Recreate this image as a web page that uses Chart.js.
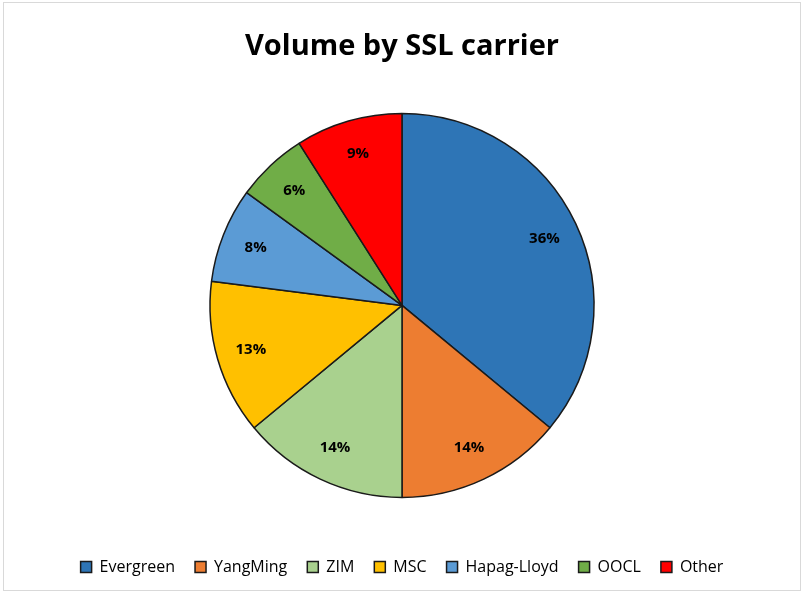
<!DOCTYPE html>
<html>
<head>
<meta charset="utf-8">
<script src="https://cdn.jsdelivr.net/npm/chart.js@4.4.0/dist/chart.umd.min.js"></script>
<style>
  html, body { margin: 0; padding: 0; background: #fff; }
  #wrap {
    position: absolute; left: 3px; top: 2px;
    width: 798px; height: 589px;
    border: 1px solid #d9d9d9; box-sizing: border-box;
  }
</style>
</head>
<body>
<div id="wrap"><canvas id="pieChart"></canvas></div>
<script>
// ---------- DATA ----------
const carriers = ["Evergreen", "YangMing", "ZIM", "MSC", "Hapag-Lloyd", "OOCL", "Other"];
const shares = [36, 14, 14, 13, 8, 6, 9];
const sliceColors = ["#2E75B6", "#ED7D31", "#A9D18E", "#FFC000", "#5B9BD5", "#70AD47", "#FF0000"];

const FONT = "'Open Sans', sans-serif";

// ---------- SLICE LABELS (percent inside each slice) ----------
const sliceLabels = {
  id: "sliceLabels",
  afterDatasetsDraw(chart) {
    const ctx = chart.ctx;
    const meta = chart.getDatasetMeta(0);
    ctx.save();
    ctx.font = "bold 15px " + FONT;
    ctx.fillStyle = "#000";
    ctx.textAlign = "center";
    ctx.textBaseline = "middle";
    meta.data.forEach((arc, i) => {
      const mid = (arc.startAngle + arc.endAngle) / 2;
      const r = arc.outerRadius * 0.82;
      ctx.fillText(shares[i] + "%", arc.x + Math.cos(mid) * r, arc.y + Math.sin(mid) * r);
    });
    ctx.restore();
  },
};

new Chart(document.getElementById("pieChart"), {
  type: "pie",
  data: {
    labels: carriers,
    datasets: [
      {
        data: shares,
        backgroundColor: sliceColors,
        borderColor: "#1a1a1a",
        borderWidth: 1.5,
        radius: 192,
      },
    ],
  },
  options: {
    responsive: true,
    maintainAspectRatio: false,
    animation: false,
    layout: { padding: { top: 0, bottom: 5, left: 0, right: 0 } },
    plugins: {
      tooltip: { enabled: false },
      title: {
        display: true,
        text: "Volume by SSL carrier",
        color: "#000",
        font: { size: 29, weight: "bold", family: FONT },
        padding: { top: 26, bottom: 8 },
      },
      legend: {
        position: "bottom",
        labels: {
          color: "#000",
          boxWidth: 11,
          boxHeight: 11,
          padding: 20,
          font: { size: 16, family: FONT },
        },
      },
    },
  },
  plugins: [sliceLabels],
});
</script>
</body>
</html>
